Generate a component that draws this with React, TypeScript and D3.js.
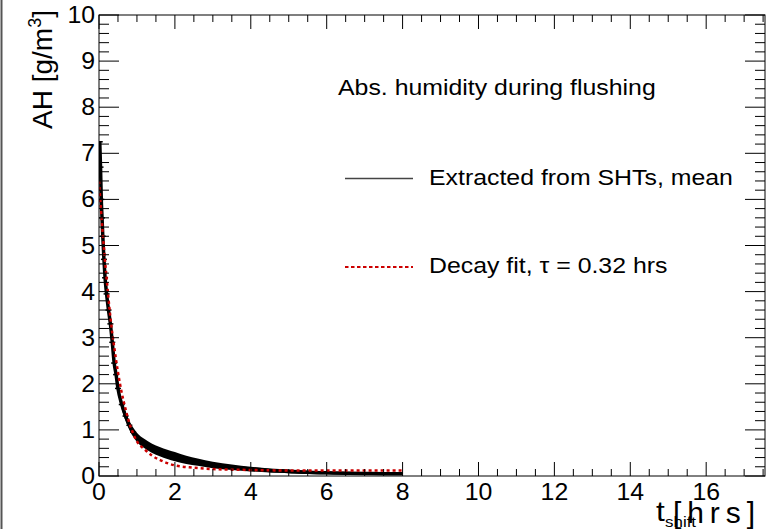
import React from "react";
import * as d3 from "d3";

// ---- data ----
const meanT = [0.02, 0.04, 0.06, 0.08, 0.1, 0.13, 0.16, 0.2, 0.25, 0.3, 0.35, 0.4, 0.45, 0.5, 0.6, 0.7, 0.8, 0.9, 1.0, 1.2, 1.4, 1.6, 1.8, 2.0, 2.3, 2.6, 3.0, 3.5, 4.0, 4.5, 5.0, 5.5, 6.0, 6.5, 7.0, 7.5, 8.0];
const meanV = [7.25, 6.7, 6.0, 5.6, 5.2, 4.7, 4.3, 3.95, 3.6, 3.3, 2.9, 2.45, 2.2, 1.9, 1.55, 1.3, 1.1, 0.95, 0.84, 0.7, 0.6, 0.53, 0.47, 0.42, 0.35, 0.3, 0.24, 0.19, 0.15, 0.12, 0.1, 0.08, 0.07, 0.06, 0.055, 0.05, 0.05];
const meanErr = [0.05, 0.05, 0.05, 0.05, 0.05, 0.05, 0.05, 0.06, 0.06, 0.07, 0.07, 0.08, 0.08, 0.09, 0.1, 0.1, 0.1, 0.1, 0.1, 0.1, 0.1, 0.1, 0.1, 0.1, 0.09, 0.08, 0.07, 0.06, 0.05, 0.045, 0.04, 0.035, 0.03, 0.03, 0.025, 0.02, 0.02];

const fitT = [0, 0.05, 0.1, 0.15, 0.2, 0.25, 0.3, 0.35, 0.4, 0.5, 0.6, 0.7, 0.8, 0.9, 1.0, 1.2, 1.4, 1.6, 1.8, 2.0, 2.5, 3.0, 4.0, 5.0, 6.0, 7.0, 8.0];
const fitV = [6.4, 5.8, 5.25, 4.75, 4.3, 3.85, 3.45, 3.1, 2.8, 2.25, 1.8, 1.45, 1.15, 0.92, 0.75, 0.58, 0.44, 0.35, 0.28, 0.23, 0.18, 0.15, 0.13, 0.12, 0.12, 0.12, 0.12];

const xMajorTicks = [0, 2, 4, 6, 8, 10, 12, 14, 16];
const yMajorTicks = [0, 1, 2, 3, 4, 5, 6, 7, 8, 9, 10];
const xDomain = [0, 17.55];
const yDomain = [0, 10];
const xMinorStep = 0.5;
const yMinorStep = 0.2;

const titleText = "Abs. humidity during flushing";
const legendMean = "Extracted from SHTs, mean";
const legendFit = "Decay fit, \u03c4 = 0.32 hrs";

const W = 782, H = 529;
const L = 99, R = 765, TOP = 15, B = 476;
const FONT = "Liberation Sans, Arial, Helvetica, sans-serif";
const SX = 1.13;
const RED = "#cc0000";

function T({ x, y, size = 22, anchor = "start", s = SX, children, ...rest }: any) {
  return (
    <text transform={`translate(${x},${y}) scale(${s},1)`} textAnchor={anchor} fontSize={size} fontFamily={FONT} fill="#000" {...rest}>
      {children}
    </text>
  );
}

export default function App() {
  const x = d3.scaleLinear().domain(xDomain).range([L, R]);
  const y = d3.scaleLinear().domain(yDomain).range([B, TOP]);

  const xMinor = d3.range(0, xDomain[1] + 1e-9, xMinorStep).filter((v) => !xMajorTicks.includes(v));
  const yMinor = d3.range(0, yDomain[1] + 1e-9, yMinorStep).map((v) => +v.toFixed(3)).filter((v) => Math.abs(v - Math.round(v)) > 1e-6);

  const mean = meanT.map((t, i) => ({ t, v: meanV[i], e: meanErr[i] }));
  const fit = fitT.map((t, i) => ({ t, v: fitV[i] }));

  const area = d3.area<any>().x((d) => x(d.t)).y0((d) => y(Math.max(0, d.v - d.e))).y1((d) => y(d.v + d.e)).curve(d3.curveMonotoneX);
  const line = d3.line<any>().x((d) => x(d.t)).y((d) => y(d.v)).curve(d3.curveMonotoneX);

  const xMajLen = 14, xMinLen = 7, yMajLen = 20, yMinLen = 10;

  return (
    <svg width={W} height={H} style={{ position: "absolute", left: 0, top: 0, background: "#fff" }}>
      <rect x={0} y={0} width={W} height={H} fill="#fff" />
      <line x1={1.5} x2={1.5} y1={0} y2={H} stroke="#555" strokeWidth={2} />

      <defs>
        <clipPath id="plotclip">
          <rect x={L} y={TOP} width={R - L} height={B - TOP} />
        </clipPath>
      </defs>

      {/* data */}
      <g clipPath="url(#plotclip)">
        <path d={area(mean) || ""} fill="#000" />
        <path d={line(mean) || ""} fill="none" stroke="#000" strokeWidth={3.5} />
        {mean.filter((d) => d.t < 1).map((d, i) => (
          <line key={i} x1={x(d.t) - 3} x2={x(d.t) + 3} y1={y(d.v)} y2={y(d.v)} stroke="#000" strokeWidth={1.5} />
        ))}
        <path d={line(fit) || ""} fill="none" stroke={RED} strokeWidth={2.5} strokeDasharray="3 3" />
      </g>

      {/* frame */}
      <rect x={L} y={TOP} width={R - L} height={B - TOP} fill="none" stroke="#000" strokeWidth={1} />

      {/* x ticks bottom & top */}
      {xMajorTicks.map((v) => (
        <g key={"xm" + v}>
          <line x1={x(v)} x2={x(v)} y1={B} y2={B - xMajLen} stroke="#000" />
          <line x1={x(v)} x2={x(v)} y1={TOP} y2={TOP + xMajLen} stroke="#000" />
        </g>
      ))}
      {xMinor.map((v) => (
        <g key={"xn" + v}>
          <line x1={x(v)} x2={x(v)} y1={B} y2={B - xMinLen} stroke="#000" />
          <line x1={x(v)} x2={x(v)} y1={TOP} y2={TOP + xMinLen} stroke="#000" />
        </g>
      ))}
      {/* y ticks left & right */}
      {yMajorTicks.map((v) => (
        <g key={"ym" + v}>
          <line x1={L} x2={L + yMajLen} y1={y(v)} y2={y(v)} stroke="#000" />
          <line x1={R} x2={R - yMajLen} y1={y(v)} y2={y(v)} stroke="#000" />
        </g>
      ))}
      {yMinor.map((v) => (
        <g key={"yn" + v}>
          <line x1={L} x2={L + yMinLen} y1={y(v)} y2={y(v)} stroke="#000" />
          <line x1={R} x2={R - yMinLen} y1={y(v)} y2={y(v)} stroke="#000" />
        </g>
      ))}

      {/* tick labels */}
      {xMajorTicks.map((v) => (
        <T key={"xl" + v} x={x(v)} y={500} anchor="middle" size={23} s={1.08}>{v}</T>
      ))}
      {yMajorTicks.map((v) => (
        <T key={"yl" + v} x={95} y={y(v) + 8} anchor="end" size={23} s={1.08}>{v}</T>
      ))}

      {/* axis titles */}
      <text transform={`translate(52,129) rotate(-90)`} fontSize={28} fontFamily={FONT} fill="#000">
        AH [g/m<tspan fontSize={18} dy={-11}>3</tspan><tspan dy={11}>]</tspan>
      </text>
      <T x={656} y={521} size={28}>t</T>
      <T x={665} y={527} size={15}>shift</T>
      <text x={673} y={523} fontSize={30} fontFamily={FONT} fill="#000" textLength={82} lengthAdjust="spacing">[hrs]</text>

      {/* legend */}
      <T x={338} y={95}>{titleText}</T>
      <line x1={345} x2={413} y1={178.5} y2={178.5} stroke="#444" strokeWidth={1.5} />
      <T x={429} y={185}>{legendMean}</T>
      <line x1={345} x2={413} y1={267} y2={267} stroke={RED} strokeWidth={2} strokeDasharray="3.5 2.5" />
      <T x={429} y={273}>{legendFit}</T>
    </svg>
  );
}
